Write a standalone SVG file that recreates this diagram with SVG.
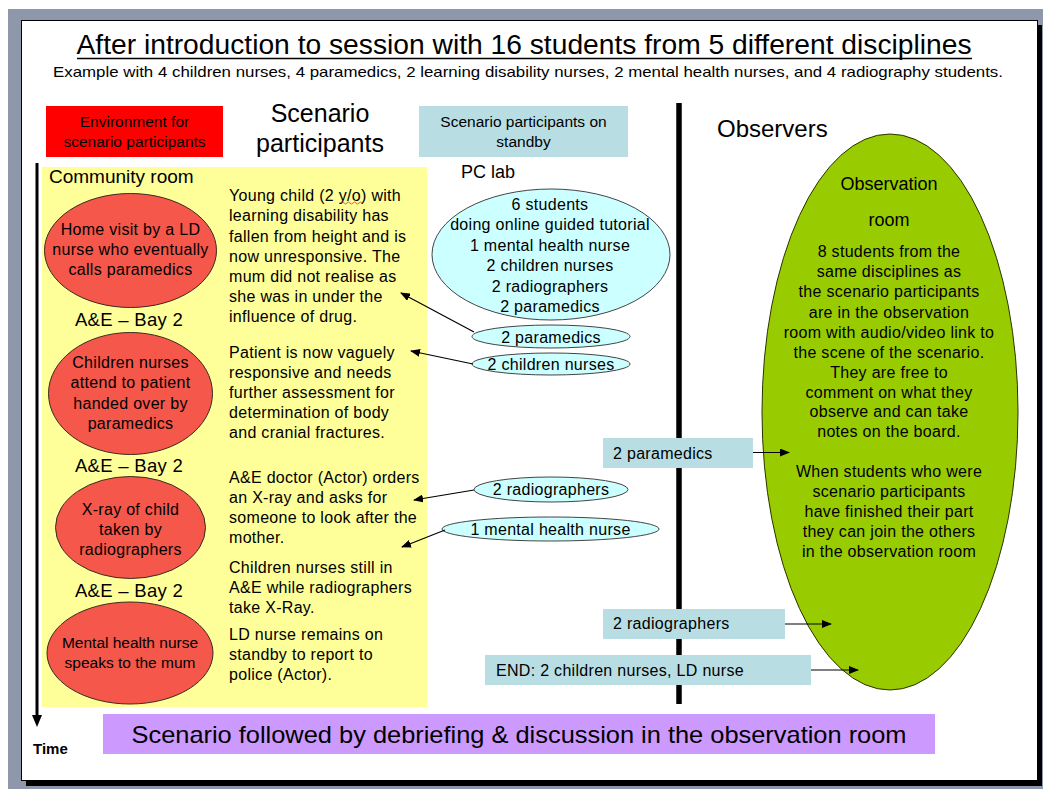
<svg xmlns="http://www.w3.org/2000/svg" width="1043" height="789" viewBox="0 0 1043 789">
<style>
text{font-family:"Liberation Sans",Arial,Helvetica,sans-serif;fill:#000}
.b{font-size:16px;letter-spacing:0.3px}
.c{text-anchor:middle}
.h{font-size:25px}
.bay{font-size:18.5px;text-anchor:middle;letter-spacing:0.3px}
.red{fill:#f5574a;stroke:#3a2a20;stroke-width:1}
.cy{fill:#ccffff;stroke:#444;stroke-width:1}
.teal{fill:#b8dee4}
.con{stroke:#000;stroke-width:1.2;fill:none;marker-end:url(#ah)}
</style>
<defs>
<marker id="ah" markerWidth="10" markerHeight="8" refX="9" refY="4" orient="auto" markerUnits="userSpaceOnUse">
<path d="M0,0 L10,4 L0,8 Z" fill="#000"/>
</marker>
</defs>
<g id="frame">
<rect x="8" y="9" width="1035" height="780" fill="#8f98aa"/>
<rect x="26" y="25" width="1016" height="761" fill="#000"/>
<rect x="21.5" y="20.5" width="1016" height="760" fill="#fff" stroke="#000" stroke-width="1"/>
</g>
<g id="title">
<text x="524" y="54" class="c" font-size="27" textLength="895" lengthAdjust="spacingAndGlyphs">After introduction to session with 16 students from 5 different disciplines</text>
<line x1="77" y1="58.5" x2="972" y2="58.5" stroke="#000" stroke-width="1.5"/>
<text x="528" y="77" class="c" font-size="14.5" textLength="950" lengthAdjust="spacingAndGlyphs">Example with 4 children nurses, 4 paramedics, 2 learning disability nurses, 2 mental health nurses, and 4 radiography students.</text>
</g>
<g id="env-label">
<rect x="46" y="106" width="177" height="51" fill="#ff0000"/>
<text x="134.5" y="127" class="c" font-size="15.5">Environment for</text>
<text x="134.5" y="147" class="c" font-size="15.5">scenario participants</text>
</g>
<g id="participants-heading">
<text x="320" y="122" class="c h">Scenario</text>
<text x="320" y="152" class="c h">participants</text>
</g>
<g id="standby-label">
<rect x="419" y="106" width="209" height="51" class="teal"/>
<text x="523.5" y="127" class="c" font-size="15.5">Scenario participants on</text>
<text x="523.5" y="147" class="c" font-size="15.5">standby</text>
</g>
<g id="observers-heading">
<text x="717" y="137" font-size="24">Observers</text>
</g>
<g id="time-axis">
<line x1="37" y1="163" x2="37" y2="716" stroke="#000" stroke-width="3"/>
<path d="M32,715 L42,715 L37,727 Z" fill="#000"/>
<text x="33" y="754" font-size="15" font-weight="bold">Time</text>
</g>
<g id="scenario-area">
<rect x="42" y="167" width="385" height="540" fill="#ffff99"/>
<text x="49" y="183" font-size="19">Community room</text>
</g>
<g id="ev1">
<ellipse cx="130.5" cy="250.5" rx="86" ry="57" class="red"/>
<text x="130.5" y="235" class="c b">Home visit by a LD</text>
<text x="130.5" y="255" class="c b">nurse who eventually</text>
<text x="130.5" y="275" class="c b">calls paramedics</text>
</g>
<g id="bay1"><text x="129" y="326" class="bay">A&amp;E – Bay 2</text></g>
<g id="ev2">
<ellipse cx="130.5" cy="393.5" rx="82" ry="61" class="red"/>
<text x="130.5" y="368" class="c b">Children nurses</text>
<text x="130.5" y="388" class="c b">attend to patient</text>
<text x="130.5" y="409" class="c b">handed over by</text>
<text x="130.5" y="429" class="c b">paramedics</text>
</g>
<g id="bay2"><text x="129" y="472" class="bay">A&amp;E – Bay 2</text></g>
<g id="ev3">
<ellipse cx="130.5" cy="527.5" rx="75" ry="51" class="red"/>
<text x="130.5" y="515" class="c b">X-ray of child</text>
<text x="130.5" y="535" class="c b">taken by</text>
<text x="130.5" y="555" class="c b">radiographers</text>
</g>
<g id="bay3"><text x="129" y="597" class="bay">A&amp;E – Bay 2</text></g>
<g id="ev4">
<ellipse cx="130" cy="653" rx="83" ry="51" class="red"/>
<text x="130" y="648" class="c" font-size="15.5">Mental health nurse</text>
<text x="130" y="668" class="c" font-size="15.5">speaks to the mum</text>
</g>
<g id="desc1">
<text class="b" x="229" y="201">Young child (2 y/o) with</text>
<path d="M341,203 q1.5,-2 3,0 t3,0 t3,0 t3,0 t3,0 t3,0 t3,0" stroke="#e03030" stroke-width="0.8" fill="none"/>
<text class="b" x="229" y="221">learning disability has</text>
<text class="b" x="229" y="241.5">fallen from height and is</text>
<text class="b" x="229" y="261.5">now unresponsive. The</text>
<text class="b" x="229" y="281.5">mum did not realise as</text>
<text class="b" x="229" y="301.5">she was in under the</text>
<text class="b" x="229" y="321.5">influence of drug.</text>
</g>
<g id="desc2">
<text class="b" x="229" y="358">Patient is now vaguely</text>
<text class="b" x="229" y="378">responsive and needs</text>
<text class="b" x="229" y="398">further assessment for</text>
<text class="b" x="229" y="418">determination of body</text>
<text class="b" x="229" y="438">and cranial fractures.</text>
</g>
<g id="desc3">
<text class="b" x="229" y="483">A&amp;E doctor (Actor) orders</text>
<text class="b" x="229" y="503">an X-ray and asks for</text>
<text class="b" x="229" y="523">someone to look after the</text>
<text class="b" x="229" y="543">mother.</text>
</g>
<g id="desc4">
<text class="b" x="229" y="573">Children nurses still in</text>
<text class="b" x="229" y="593">A&amp;E while radiographers</text>
<text class="b" x="229" y="613">take X-Ray.</text>
</g>
<g id="desc5">
<text class="b" x="229" y="640">LD nurse remains on</text>
<text class="b" x="229" y="660">standby to report to</text>
<text class="b" x="229" y="680">police (Actor).</text>
</g>
<g id="pclab">
<text x="461" y="178" font-size="18">PC lab</text>
<ellipse cx="551" cy="254.5" rx="119" ry="65.5" class="cy"/>
<text x="550" y="210" class="c b">6 students</text>
<text x="550" y="230" class="c b">doing online guided tutorial</text>
<text x="550" y="251" class="c b">1 mental health nurse</text>
<text x="550" y="271" class="c b">2 children nurses</text>
<text x="550" y="292" class="c b">2 radiographers</text>
<text x="550" y="312" class="c b">2 paramedics</text>
</g>
<g id="sb-paramedics">
<ellipse cx="551" cy="336.5" rx="79" ry="11.5" class="cy"/>
<text x="551" y="343" class="c b">2 paramedics</text>
</g>
<g id="sb-children">
<ellipse cx="551" cy="364" rx="79" ry="11" class="cy"/>
<text x="551" y="370" class="c b">2 children nurses</text>
</g>
<g id="sb-radiographers">
<ellipse cx="551" cy="489.5" rx="77" ry="12.5" class="cy"/>
<text x="551" y="495" class="c b">2 radiographers</text>
</g>
<g id="sb-mhn">
<ellipse cx="550.5" cy="529" rx="108.5" ry="12" class="cy"/>
<text x="550.5" y="535" class="c b">1 mental health nurse</text>
</g>
<g id="divider">
<line x1="679" y1="103" x2="679" y2="704" stroke="#000" stroke-width="5.5"/>
</g>
<g id="observation-room">
<ellipse cx="890" cy="412" rx="128" ry="278" fill="#99cc00" stroke="#2a3300" stroke-width="1"/>
<text x="889" y="190" class="c" font-size="18">Observation</text>
<text x="889" y="226" class="c" font-size="18">room</text>
<text x="889" y="257" class="c b">8 students from the</text>
<text x="889" y="277" class="c b">same disciplines as</text>
<text x="889" y="297" class="c b">the scenario participants</text>
<text x="889" y="318" class="c b">are in the observation</text>
<text x="889" y="338" class="c b">room with audio/video link to</text>
<text x="889" y="358" class="c b">the scene of the scenario.</text>
<text x="889" y="378" class="c b">They are free to</text>
<text x="889" y="398" class="c b">comment on what they</text>
<text x="889" y="417" class="c b">observe and can take</text>
<text x="889" y="437" class="c b">notes on the board.</text>
<text x="889" y="477" class="c b">When students who were</text>
<text x="889" y="497" class="c b">scenario participants</text>
<text x="889" y="517" class="c b">have finished their part</text>
<text x="889" y="537" class="c b">they can join the others</text>
<text x="889" y="557" class="c b">in the observation room</text>
</g>
<g id="obs-paramedics">
<rect x="603" y="438" width="150" height="30" class="teal"/>
<text x="613" y="459" class="b">2 paramedics</text>
</g>
<g id="obs-radiographers">
<rect x="603" y="609" width="182" height="30" class="teal"/>
<text x="613" y="629" class="b">2 radiographers</text>
</g>
<g id="obs-end">
<rect x="485" y="655" width="326" height="30" class="teal"/>
<text x="496" y="676" class="b">END: 2 children nurses, LD nurse</text>
</g>
<g id="connectors">
<line x1="474" y1="332" x2="401" y2="293" class="con"/>
<line x1="473" y1="364" x2="411" y2="351" class="con"/>
<line x1="474" y1="490" x2="414" y2="500" class="con"/>
<line x1="445" y1="530" x2="402" y2="547" class="con"/>
<line x1="753" y1="452.5" x2="789" y2="452.5" class="con"/>
<line x1="785" y1="624" x2="831" y2="624" class="con"/>
<line x1="811" y1="670" x2="858" y2="670" class="con"/>
</g>
<g id="debrief">
<rect x="103" y="714" width="832" height="40" fill="#cc99ff"/>
<text x="519" y="743" class="c" font-size="24" textLength="775" lengthAdjust="spacingAndGlyphs">Scenario followed by debriefing &amp; discussion in the observation room</text>
</g>
</svg>
